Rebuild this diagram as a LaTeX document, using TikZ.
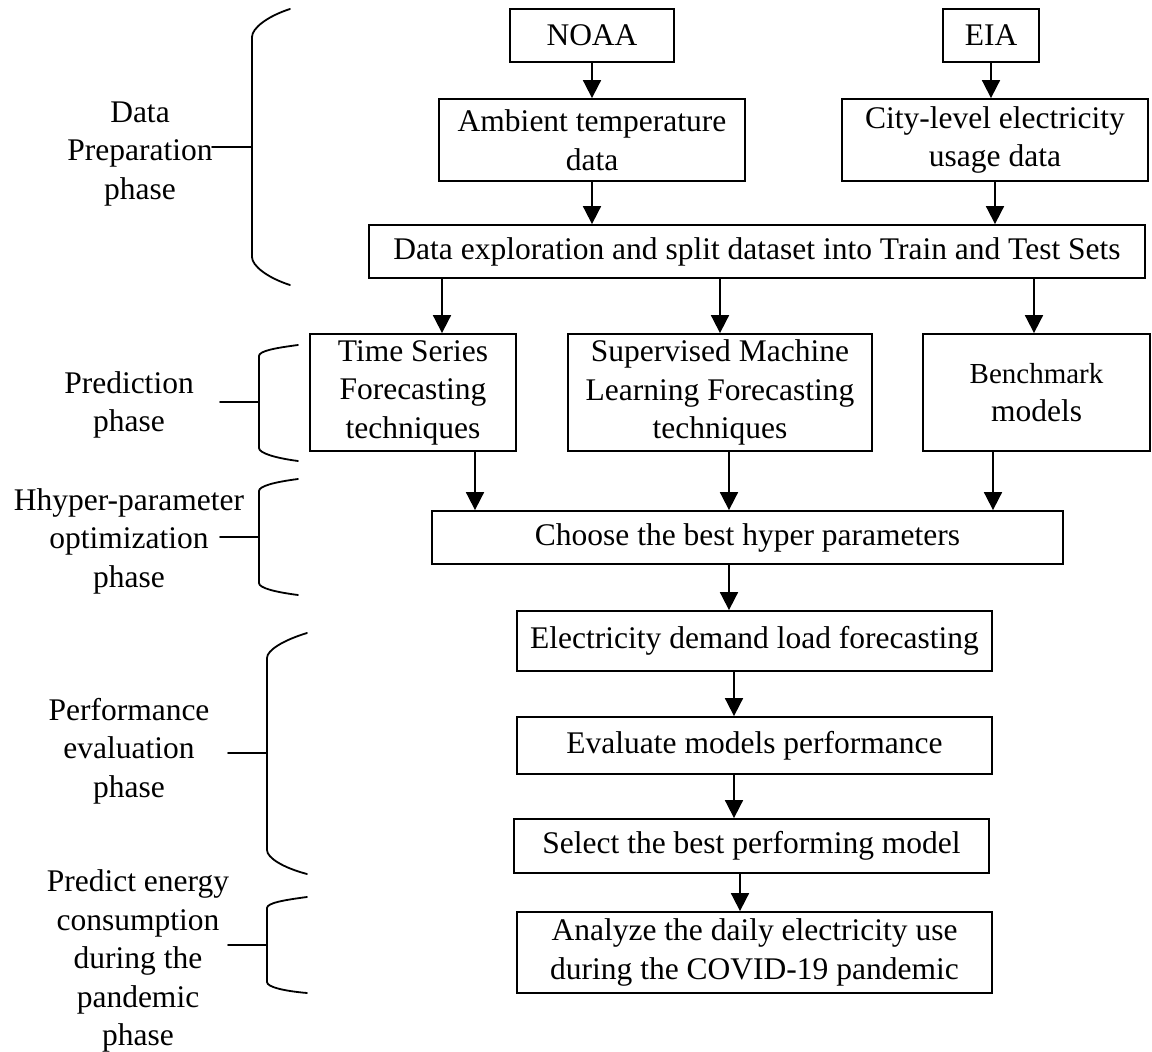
\documentclass[tikz,border=0pt]{standalone}
\usepackage{fontspec}
\setmainfont{Liberation Serif}
\usetikzlibrary{arrows.meta}

\begin{document}
\begin{tikzpicture}[x=1pt,y=-1pt,
  box/.style={draw, line width=1.8pt, align=center, inner sep=0pt},
  arr/.style={line width=1.8pt, -{Triangle[length=18pt,width=18pt]}},
  brace/.style={line width=1.8pt, line cap=round},
  phase/.style={align=center, inner sep=0pt}]
\useasboundingbox (0,0) rectangle (1152,1052);
\fontsize{31.5}{38.5}\selectfont
% sources and data
\node [box, minimum width=164, minimum height=53] (noaa) at (592,35.5) {NOAA};
\node [box, minimum width=96, minimum height=53] (eia) at (991,35.5) {EIA};
\node [box, minimum width=306, minimum height=82] (ambient) at (592,140) {Ambient temperature\\data};
\node [box, minimum width=306, minimum height=82] (city) at (995,140) {City-level electricity\\usage data};
\node [box, minimum width=776, minimum height=53] (explore) at (757,251.5) {Data exploration and split dataset into Train and Test Sets};
% models
\node [box, minimum width=206, minimum height=117] (tsf) at (413,392.5) {Time Series\\Forecasting\\techniques};
\node [box, minimum width=304, minimum height=117] (sml) at (720,392.5) {Supervised Machine\\Learning Forecasting\\techniques};
\node [box, minimum width=227, minimum height=117] (bench) at (1036.5,392.5) {\fontsize{29}{38.5}\selectfont Benchmark\\models};
\node [box, minimum width=631, minimum height=53] (choose) at (747.5,537.5) {Choose the best hyper parameters};
% evaluation
\node [box, minimum width=475, minimum height=60] (elec) at (754.5,641) {Electricity demand load forecasting};
\node [box, minimum width=475, minimum height=57] (evalm) at (754.5,745.5) {Evaluate models performance};
\node [box, minimum width=475, minimum height=54] (select) at (751.5,846) {Select the best performing model};
\node [box, minimum width=475, minimum height=81] (analyze) at (754.5,952.5) {Analyze the daily electricity use\\during the COVID-19 pandemic};
% arrows
\draw [arr] (noaa) -- (ambient);
\draw [arr] (eia) -- (eia |- city.north);
\draw [arr] (ambient) -- (ambient |- explore.north);
\draw [arr] (city) -- (city |- explore.north);
\draw [arr] ([xshift=29pt]tsf.north |- explore.south) -- ([xshift=29pt]tsf.north);
\draw [arr] (sml.north |- explore.south) -- (sml.north);
\draw [arr] ([xshift=-2.5pt]bench.north |- explore.south) -- ([xshift=-2.5pt]bench.north);
\draw [arr] ([xshift=62pt]tsf.south) -- ([xshift=62pt]tsf.south |- choose.north);
\draw [arr] ([xshift=9pt]sml.south) -- ([xshift=9pt]sml.south |- choose.north);
\draw [arr] ([xshift=-43.5pt]bench.south) -- ([xshift=-43.5pt]bench.south |- choose.north);
\draw [arr] ([xshift=-18.5pt]choose.south) -- ([xshift=-18.5pt]choose.south |- elec.north);
\draw [arr] ([xshift=-20.5pt]elec.south) -- ([xshift=-20.5pt]elec.south |- evalm.north);
\draw [arr] ([xshift=-20.5pt]evalm.south) -- ([xshift=-20.5pt]evalm.south |- select.north);
\draw [arr] ([xshift=-11.5pt]select.south) -- ([xshift=-11.5pt]select.south |- analyze.north);
% phase labels and braces
\node [phase] (prep) at (140,154) {Data\\Preparation\\phase};
\draw [brace] (290,9) .. controls (268,16) and (252,28) .. (252,37) -- (252,257) .. controls (252,266) and (268,278) .. (290,285);
\draw [brace] (212,147) -- (252,147);
\node [phase] (pred) at (129,405) {Prediction\\phase};
\draw [brace] (298,345) .. controls (275,348) and (259,351) .. (259,356) -- (259,448) .. controls (259,453) and (275,458) .. (298,461);
\draw [brace] (220,402) -- (259,402);
\node [phase] (hyper) at (129,541) {Hhyper-parameter\\optimization\\phase};
\draw [brace] (298,479) .. controls (275,482) and (259,486) .. (259,491) -- (259,583) .. controls (259,588) and (275,592) .. (298,595);
\draw [brace] (220,537) -- (259,537);
\node [phase] (perf) at (129,751) {Performance\\evaluation\\phase};
\draw [brace] (307,633) .. controls (284,640) and (267,650) .. (267,658) -- (267,850) .. controls (267,858) and (284,868) .. (307,874);
\draw [brace] (228,753) -- (267,753);
\node [phase] (covid) at (138,961) {Predict energy\\consumption\\during the\\pandemic\\phase};
\draw [brace] (307,897) .. controls (284,900) and (267,903) .. (267,908) -- (267,982) .. controls (267,987) and (284,991) .. (307,993);
\draw [brace] (228,945) -- (267,945);
\end{tikzpicture}
\end{document}
